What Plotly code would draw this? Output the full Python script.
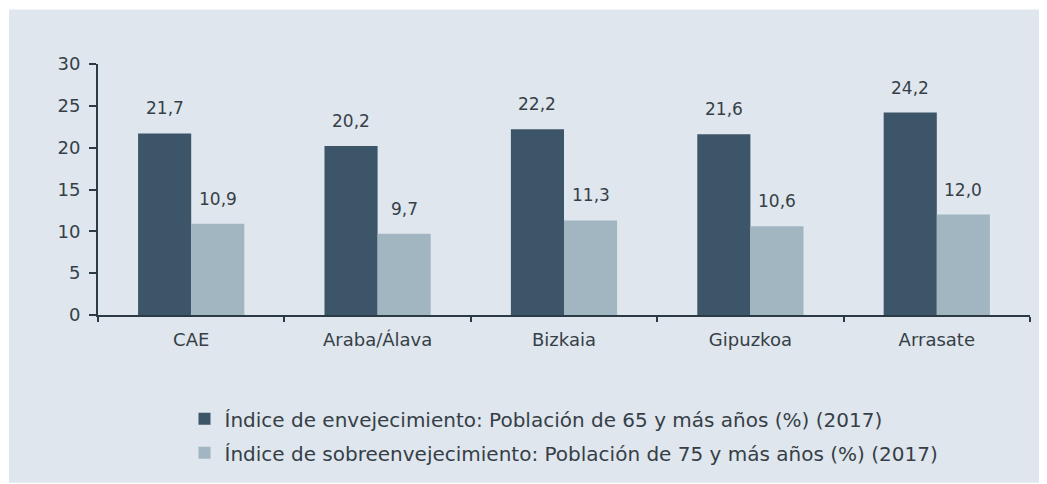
import plotly.graph_objects as go

categories = ["CAE", "Araba/Álava", "Bizkaia", "Gipuzkoa", "Arrasate"]
envejecimiento = [21.7, 20.2, 22.2, 21.6, 24.2]
sobreenvejecimiento = [10.9, 9.7, 11.3, 10.6, 12.0]
name_env = "Índice de envejecimiento: Población de 65 y más años (%) (2017)"
name_sob = "Índice de sobreenvejecimiento: Población de 75 y más años (%) (2017)"
y_ticks = [0, 5, 10, 15, 20, 25, 30]

DARK = "#3C5568"
LIGHT = "#A1B6C1"
BG = "#DFE6ED"
TXT = "#363F47"
AX = "#2B3A45"
FONT = "DejaVu Sans"

# page has an 8px body margin; figure sized to fit the window
W, H = 1039, 476
L, R, T, B = 90, 17, 56, 167
pw, ph = W - L - R, H - T - B

fig = go.Figure()
fig.add_trace(go.Bar(x=categories, y=envejecimiento, name=name_env,
                     marker=dict(color=DARK, line=dict(width=0)), legendgroup="a"))
fig.add_trace(go.Bar(x=categories, y=sobreenvejecimiento, name=name_sob,
                     marker=dict(color=LIGHT, line=dict(width=0)), legendgroup="b"))

cat_w = pw / len(categories)
bar_w = 0.285 * cat_w
for vals, sh in ((envejecimiento, -bar_w / 2), (sobreenvejecimiento, bar_w / 2)):
    for c, v in zip(categories, vals):
        fig.add_annotation(x=c, y=v, text=f"{v:.1f}".replace(".", ","),
                           showarrow=False, xshift=sh, yshift=25, yanchor="middle",
                           font=dict(family=FONT, size=17, color=TXT))

# background panel (starts 1px inside the figure -> 9px from page edge)
fig.add_shape(type="rect", xref="paper", yref="paper",
              x0=(1 - L) / pw, x1=(W - L) / pw + 0.01,
              y0=-(B + 2) / ph, y1=(ph + T - 1) / ph,
              fillcolor=BG, line=dict(width=0), layer="below")

legend_top_px = 394  # in figure pixels
fig.update_layout(
    width=W, height=H,
    margin=dict(l=L, r=R, t=T, b=B),
    paper_bgcolor="white", plot_bgcolor="rgba(0,0,0,0)",
    barmode="group", bargap=0.43, bargroupgap=0,
    font=dict(family=FONT, color=TXT),
    showlegend=True,
    legend=dict(orientation="v", x=0.5, xanchor="center",
                y=-(legend_top_px - T - ph) / ph, yanchor="top",
                font=dict(family=FONT, size=20, color=TXT),
                traceorder="grouped", tracegroupgap=5,
                bgcolor="rgba(0,0,0,0)", itemwidth=30),
    xaxis=dict(showline=True, linecolor=AX, linewidth=2, ticks="outside",
               tickson="boundaries", ticklen=5, tickcolor=AX, tickwidth=2,
               tickfont=dict(family=FONT, size=18, color=TXT),
               ticklabelstandoff=7, showgrid=False, zeroline=False),
    yaxis=dict(range=[0, 30], tickvals=y_ticks, showline=True, linecolor=AX,
               linewidth=2, ticks="outside", ticklen=7, tickcolor=AX, tickwidth=2,
               tickfont=dict(family=FONT, size=18, color=TXT),
               ticklabelstandoff=5, showgrid=False, zeroline=False),
)

fig.write_html("out.html")
